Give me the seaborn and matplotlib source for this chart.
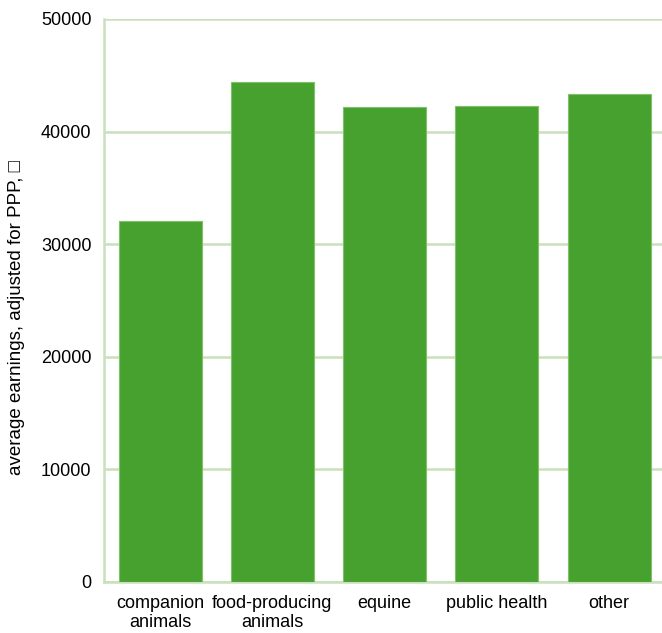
import matplotlib
matplotlib.use("Agg")
import matplotlib.pyplot as plt
import seaborn as sns
import pandas as pd

categories = ["companion\nanimals", "food-producing\nanimals", "equine", "public health", "other"]
earnings = [32100, 44400, 42200, 42300, 43300]
yticks = [0, 10000, 20000, 30000, 40000, 50000]

df = pd.DataFrame({"category": categories, "earnings": earnings})

sns.set_theme(style="white")
plt.rcParams["font.family"] = ["Liberation Sans", "DejaVu Sans"]

W, H = 662, 633
fig = plt.figure(figsize=(W / 100, H / 100), dpi=100)
left, right, top, bottom = 104, 662, 19, 582
ax = fig.add_axes([left / W, 1 - bottom / H, (right - left) / W, (bottom - top) / H])

grid_c = "#c9e1ba"
bar_c = "#46a12f"

sns.barplot(data=df, x="category", y="earnings", color=bar_c, saturation=1,
            width=0.74, edgecolor="#7fc06a", linewidth=0.8, ax=ax, zorder=3)

ax.set_ylim(0, 50000)
ax.set_xlim(-0.5, 4.47)
ax.set_yticks(yticks)
ax.set_yticklabels([str(v) for v in yticks])
ax.yaxis.grid(True, color=grid_c, linewidth=1.8, zorder=0)
ax.set_axisbelow(True)
for s in ["top", "right"]:
    ax.spines[s].set_visible(False)
for s in ["left", "bottom"]:
    ax.spines[s].set_color(grid_c)
    ax.spines[s].set_linewidth(1.8)
ax.tick_params(axis="both", length=0, labelsize=13, colors="black")
ax.tick_params(axis="y", pad=9)
ax.tick_params(axis="x", pad=9)
for t in ax.get_xticklabels():
    t.set_linespacing(1.2)
ax.set_xlabel("")
ax.set_ylabel("average earnings, adjusted for PPP, \u25a1", fontsize=13.5, color="black")
ax.yaxis.set_label_coords(-0.141, 0.469)

fig.savefig("out.png", dpi=100)
